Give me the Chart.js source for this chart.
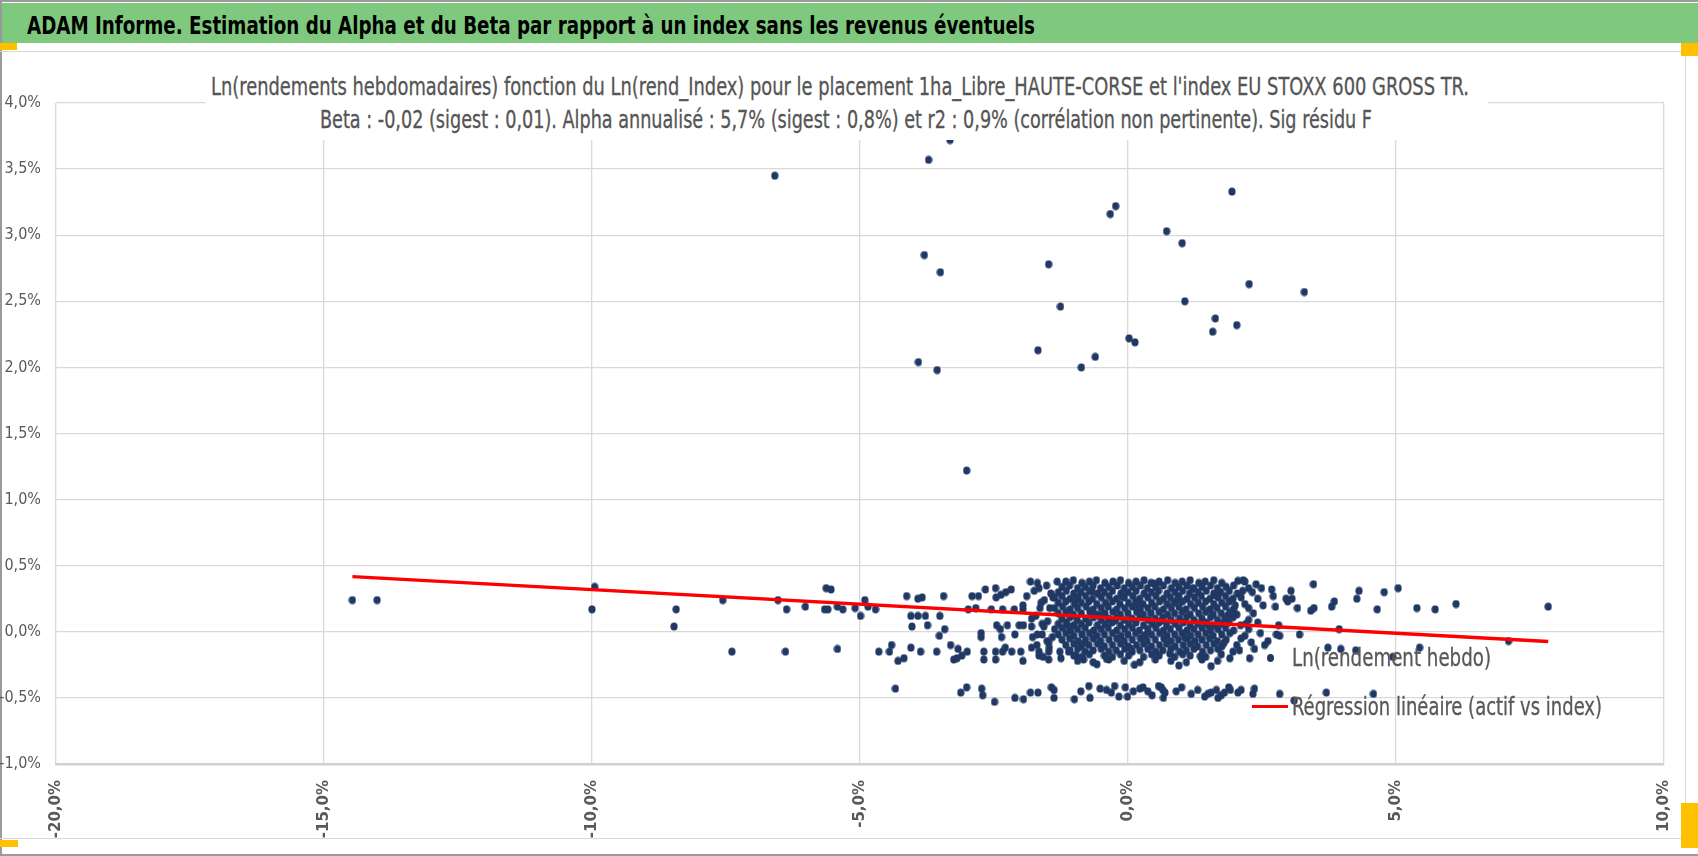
<!DOCTYPE html>
<html lang="fr">
<head>
<meta charset="utf-8">
<title>ADAM Informe - Alpha et Beta</title>
<script src="https://cdn.jsdelivr.net/npm/chart.js@4.4.1/dist/chart.umd.min.js"></script>
<style>
    html, body { margin: 0; padding: 0; width: 1698px; height: 856px; overflow: hidden; background: #fff; }
    .abs { position: absolute; }
    #bordHaut { left: 0; top: 0; width: 1698px; height: 2px; background: #9a9a9a; }
    #bordGauche { left: 0; top: 0; width: 2px; height: 856px; background: #9a9a9a; }
    #bordBas { left: 0; top: 854px; width: 1698px; height: 2px; background: #9a9a9a; }
    #entete { left: 2px; top: 3px; width: 1696px; height: 40px; background: #7fc97f; }
    #cadre { left: 0; top: 51px; width: 1685px; height: 786px; border: 1px solid #d9d9d9; border-left: none; }
    .poignee { background: #ffc000; }
    .texte { white-space: nowrap; transform-origin: 0 50%; display: inline-block; }
    #texteEntete { left: 27px; top: 12px; font: bold 25px/28px "Liberation Sans Narrow", "DejaVu Sans Condensed", sans-serif; color: #000; }
    #boiteTitre { left: 206px; top: 62px; width: 1282px; height: 78px; background: #fff; z-index: 3; }
    .titre { font: 24px/28px "Liberation Sans Narrow", "DejaVu Sans Condensed", sans-serif; color: #555; -webkit-text-stroke: 0.3px #555; z-index: 4; }
    #titre1 { left: 211px; top: 73px; }
    #titre2 { left: 320px; top: 106px; }
    .legende { font: 24px/28px "Liberation Sans Narrow", "DejaVu Sans Condensed", sans-serif; color: #595959; -webkit-text-stroke: 0.3px #595959; z-index: 4; }
    #leg1 { left: 1292px; top: 644px; }
    #leg2 { left: 1292px; top: 693px; }
    #legTrait { left: 1252px; top: 705px; width: 36px; height: 3px; background: #ff0000; z-index: 4; }
    #legPoint { left: 1267px; top: 654px; width: 7px; height: 8px; border-radius: 50%; background: #203864; z-index: 4; }
    #zoneGraphe { left: 0; top: 0; width: 1698px; height: 856px; z-index: 2; }
</style>
</head>
<body>
<div class="abs" id="entete"></div>
<div class="abs" id="bordHaut"></div>
<div class="abs" id="bordGauche"></div>
<div class="abs" id="bordBas"></div>
<div class="abs" id="cadre"></div>
<div class="abs poignee" style="left:0;top:43px;width:17px;height:7px"></div>
<div class="abs poignee" style="left:1681px;top:43px;width:17px;height:13px"></div>
<div class="abs poignee" style="left:0;top:840px;width:18px;height:7px"></div>
<div class="abs poignee" style="left:1681px;top:803px;width:17px;height:45px"></div>
<span class="abs texte" id="texteEntete" data-largeur="1008"></span>

<div class="abs" id="zoneGraphe"><canvas id="nuage"></canvas></div>

<div class="abs" id="boiteTitre"></div>
<span class="abs texte titre" id="titre1" data-largeur="1258"></span>
<span class="abs texte titre" id="titre2" data-largeur="1052"></span>

<div class="abs" id="legPoint"></div>
<span class="abs texte legende" id="leg1" data-largeur="199"></span>
<div class="abs" id="legTrait"></div>
<span class="abs texte legende" id="leg2" data-largeur="310"></span>

<script>
// textes
const enTete = "ADAM Informe. Estimation du Alpha et du Beta par rapport à un index sans les revenus éventuels";
const titreLigne1 = "Ln(rendements hebdomadaires) fonction du Ln(rend_Index) pour le placement 1ha_Libre_HAUTE-CORSE et l'index EU STOXX 600 GROSS TR.";
const titreLigne2 = "Beta : -0,02 (sigest : 0,01).  Alpha annualisé : 5,7% (sigest : 0,8%) et r2 : 0,9% (corrélation non pertinente). Sig résidu F";
const nomNuage = "Ln(rendement hebdo)";
const nomRegression = "Régression linéaire (actif vs index)";

// axes (en %)
const xBornes = [-20, 10];
const xPas = 5;
const yBornes = [-1, 4];
const yPas = 0.5;

// droite de régression : extrémités en %
const regX = [-14.47, 7.84];
const regY = [0.417, -0.073];

// points [rend_Index %, rendement hebdo %]
const outliersHaut = [
    [-6.59,3.45],[-3.72,3.57],[-3.32,3.72],[1.94,3.33],[-0.23,3.22],[-0.33,3.16],[0.72,3.03],[1.01,2.94],
    [-3.80,2.85],[-3.50,2.72],[-1.48,2.78],[2.26,2.63],[3.29,2.57],[1.06,2.50],[-1.26,2.46],[1.63,2.37],
    [2.03,2.32],[1.58,2.27],[0.02,2.22],[0.13,2.19],[-1.68,2.13],[-0.61,2.08],[-0.87,2.00],[-3.91,2.04],
    [-3.56,1.98],[-3.01,1.22]
];

const queueGauche = [
    [-14.47,0.24],[-14.01,0.24],[-9.95,0.34],[-10.0,0.17],[-8.43,0.17],[-8.47,0.04],[-7.56,0.24],[-7.39,-0.15],
    [-6.53,0.24],[-6.37,0.17],[-6.39,-0.15],[-6.02,0.19],[-5.63,0.33],[-5.54,0.32],[-5.66,0.17],[-5.60,0.17],
    [-5.42,0.19],[-5.42,-0.13],[-5.32,0.17],[-5.09,0.18],[-4.99,0.12],[-4.91,0.24],[-4.85,0.19],[-4.71,0.17],
    [-4.65,-0.15]
];

const flancGauche = [
    [-4.13,0.27],[-4.05,0.12],[-4.03,0.04],[-3.92,0.12],[-3.92,0.25],[-3.84,0.26],[-3.78,0.12],[-3.74,0.05],
    [-3.51,0.12],[-3.44,0.27],[-3.42,0.02],[-3.52,-0.03],[-3.31,-0.10],[-3.17,-0.13],[-2.98,0.17],[-2.84,0.18],
    [-2.91,0.27],[-2.79,0.27],[-2.66,0.32],[-2.47,0.33],[-2.46,0.26],[-2.37,0.28],[-2.28,0.30],[-2.18,0.32],
    [-2.55,0.17],[-2.34,0.17],[-2.45,0.05],[-2.25,0.05],[-2.38,0.02],[-2.36,-0.04],[-2.74,-0.04],[-2.74,-0.01],
    [-2.11,-0.02],[-2.12,0.17],[-1.96,0.17],[-2.03,0.05],[-1.95,0.05],[-1.96,0.20],[-1.89,0.27],[-1.82,0.38],
    [-1.69,0.37],[-1.66,0.33],[-1.80,0.10],[-1.80,0.04],[-1.78,-0.04],[-1.69,-0.02],[-1.60,-0.02],[-1.64,0.18],
    [-1.60,0.06],[-1.57,0.04],[-1.56,0.24],[-1.51,-0.07],[-1.48,-0.08],[-1.46,0.18],[-1.40,0.26],
    [-4.45,-0.15],[-4.41,-0.10],[-4.29,-0.22],[-4.18,-0.20],[-4.05,-0.12],[-3.87,-0.15],[-3.57,-0.15],[-3.25,-0.21],
    [-3.19,-0.20],[-3.10,-0.18],[-3.00,-0.15],[-2.69,-0.15],[-2.69,-0.21],[-2.47,-0.15],[-2.47,-0.21],[-2.34,-0.15],
    [-2.29,-0.12],[-2.17,-0.15],[-2.00,-0.15],[-1.96,-0.22],[-1.80,-0.12],[-1.66,-0.15],[-1.66,-0.18],[-1.48,-0.15],
    [-1.48,-0.21],[-1.27,-0.15],[-1.11,-0.15],[-0.97,-0.18],[-0.83,-0.21]
];

const noyau = [
    [-1.16,0.38],[-1.02,0.39],[-0.86,0.37],[-0.72,0.38],[-0.59,0.39],[-0.43,0.37],[-0.28,0.38],[-0.14,0.39],[0.01,0.37],[0.15,0.38],[0.3,0.39],[0.43,0.37],[0.58,0.38],[0.74,0.39],[0.88,0.37],[1.01,0.38],[1.16,0.39],[1.32,0.37],[1.44,0.38],[1.6,0.39],[1.75,0.37],[2.18,0.38],
    [-1.23,0.34],[-1.09,0.35],[-0.94,0.33],[-0.8,0.34],[-0.65,0.35],[-0.51,0.33],[-0.36,0.34],[-0.2,0.35],[-0.07,0.33],[0.08,0.34],[0.23,0.35],[0.36,0.33],[0.52,0.34],[0.66,0.35],[0.81,0.33],[0.95,0.34],[1.1,0.35],[1.23,0.33],[1.38,0.34],[1.54,0.35],[1.67,0.33],[1.83,0.34],[1.97,0.35],[2.25,0.33],
    [-1.3,0.3],[-1.15,0.31],[-1.01,0.29],[-0.88,0.3],[-0.72,0.31],[-0.57,0.29],[-0.44,0.3],[-0.29,0.31],[-0.13,0.29],[0.0,0.3],[0.15,0.31],[0.3,0.29],[0.44,0.3],[0.57,0.31],[0.73,0.29],[0.88,0.3],[1.02,0.31],[1.15,0.29],[1.31,0.3],[1.46,0.31],[1.6,0.29],[1.73,0.3],[1.89,0.31],[2.04,0.29],[2.32,0.3],
    [-1.37,0.26],[-1.23,0.27],[-1.08,0.25],[-0.93,0.26],[-0.79,0.27],[-0.66,0.25],[-0.5,0.26],[-0.35,0.27],[-0.21,0.25],[-0.07,0.26],[0.09,0.27],[0.22,0.25],[0.37,0.26],[0.52,0.27],[0.66,0.25],[0.79,0.26],[0.95,0.27],[1.1,0.25],[1.24,0.26],[1.37,0.27],[1.53,0.25],[1.68,0.26],[1.82,0.27],[1.96,0.25],[2.11,0.26],
    [-1.3,0.22],[-1.16,0.23],[-1.0,0.21],[-0.87,0.22],[-0.73,0.23],[-0.58,0.21],[-0.42,0.22],[-0.29,0.23],[-0.15,0.21],[0.01,0.22],[0.15,0.23],[0.28,0.21],[0.44,0.22],[0.59,0.23],[0.73,0.21],[0.86,0.22],[1.02,0.23],[1.17,0.21],[1.31,0.22],[1.45,0.23],[1.6,0.21],[1.75,0.22],[1.89,0.23],[2.18,0.21],
    [-1.37,0.18],[-1.22,0.19],[-1.08,0.17],[-0.94,0.18],[-0.78,0.19],[-0.65,0.17],[-0.5,0.18],[-0.37,0.19],[-0.21,0.17],[-0.06,0.18],[0.08,0.19],[0.23,0.17],[0.37,0.18],[0.5,0.19],[0.66,0.17],[0.81,0.18],[0.95,0.19],[1.08,0.17],[1.24,0.18],[1.39,0.19],[1.53,0.17],[1.66,0.18],[1.82,0.19],[1.97,0.17],[2.25,0.18],
    [-1.3,0.14],[-1.16,0.15],[-1.02,0.13],[-0.87,0.14],[-0.71,0.15],[-0.58,0.13],[-0.43,0.14],[-0.28,0.15],[-0.14,0.13],[0.0,0.14],[0.16,0.15],[0.29,0.13],[0.43,0.14],[0.58,0.15],[0.74,0.13],[0.87,0.14],[1.01,0.15],[1.16,0.13],[1.32,0.14],[1.45,0.15],[1.59,0.13],[1.74,0.14],[1.9,0.15],[2.03,0.13],
    [-1.23,0.1],[-1.08,0.11],[-0.95,0.09],[-0.79,0.1],[-0.64,0.11],[-0.5,0.09],[-0.36,0.1],[-0.2,0.11],[-0.07,0.09],[0.08,0.1],[0.22,0.11],[0.38,0.09],[0.51,0.1],[0.65,0.11],[0.8,0.09],[0.96,0.1],[1.09,0.11],[1.23,0.09],[1.38,0.1],[1.54,0.11],[1.67,0.09],[1.81,0.1],[1.96,0.11],[2.25,0.09],
    [-1.3,0.06],[-1.15,0.07],[-1.01,0.05],[-0.87,0.06],[-0.73,0.07],[-0.57,0.05],[-0.43,0.06],[-0.3,0.07],[-0.14,0.05],[0.01,0.06],[0.15,0.07],[0.29,0.05],[0.45,0.06],[0.58,0.07],[0.72,0.05],[0.88,0.06],[1.03,0.07],[1.16,0.05],[1.3,0.06],[1.46,0.07],[1.61,0.05],[1.74,0.06],[1.88,0.07],[2.1,0.05],
    [-1.37,0.02],[-1.23,0.03],[-1.07,0.01],[-0.94,0.02],[-0.8,0.03],[-0.64,0.01],[-0.5,0.02],[-0.37,0.03],[-0.21,0.01],[-0.06,0.02],[0.08,0.03],[0.21,0.01],[0.37,0.02],[0.52,0.03],[0.66,0.01],[0.79,0.02],[0.95,0.03],[1.1,0.01],[1.23,0.02],[1.38,0.03],[1.54,0.01],[1.68,0.02],[1.82,0.03],[1.97,0.01],[2.25,0.02],
    [-1.3,-0.02],[-1.16,-0.01],[-1.01,-0.03],[-0.86,-0.02],[-0.72,-0.01],[-0.58,-0.03],[-0.44,-0.02],[-0.29,-0.01],[-0.13,-0.03],[0.0,-0.02],[0.14,-0.01],[0.3,-0.03],[0.44,-0.02],[0.59,-0.01],[0.73,-0.03],[0.87,-0.02],[1.01,-0.01],[1.17,-0.03],[1.31,-0.02],[1.45,-0.01],[1.59,-0.03],[1.75,-0.02],[1.9,-0.01],[2.18,-0.03],
    [-1.23,-0.06],[-1.09,-0.05],[-0.93,-0.07],[-0.79,-0.06],[-0.65,-0.05],[-0.51,-0.07],[-0.35,-0.06],[-0.21,-0.05],[-0.07,-0.07],[0.08,-0.06],[0.23,-0.05],[0.36,-0.07],[0.51,-0.06],[0.67,-0.05],[0.8,-0.07],[0.94,-0.06],[1.1,-0.05],[1.25,-0.07],[1.38,-0.06],[1.52,-0.05],[1.67,-0.07],[1.83,-0.06],[2.11,-0.05],
    [-1.16,-0.1],[-1.01,-0.09],[-0.87,-0.11],[-0.73,-0.1],[-0.57,-0.09],[-0.44,-0.11],[-0.29,-0.1],[-0.14,-0.09],[0.0,-0.11],[0.16,-0.1],[0.29,-0.09],[0.44,-0.11],[0.59,-0.1],[0.72,-0.09],[0.88,-0.11],[1.03,-0.1],[1.16,-0.09],[1.3,-0.11],[1.46,-0.1],[1.6,-0.09],[1.75,-0.11],[2.03,-0.1],
    [-1.08,-0.14],[-0.94,-0.13],[-0.8,-0.15],[-0.65,-0.14],[-0.5,-0.13],[-0.36,-0.15],[-0.22,-0.14],[-0.06,-0.13],[0.08,-0.15],[0.22,-0.14],[0.37,-0.13],[0.52,-0.15],[0.65,-0.14],[0.8,-0.13],[0.96,-0.15],[1.09,-0.14],[1.23,-0.13],[1.39,-0.15],[1.54,-0.14],[1.68,-0.13],[1.96,-0.15],
    [-1.01,-0.18],[-0.86,-0.19],[-0.72,-0.17],[-0.44,-0.18],[-0.29,-0.19],[-0.14,-0.17],[0.01,-0.18],[0.29,-0.19],[0.44,-0.17],[0.58,-0.18],[0.87,-0.19],[1.02,-0.17],[1.16,-0.18],[1.45,-0.19],[1.74,-0.17],
    [-0.94,-0.22],[-0.65,-0.23],[-0.36,-0.21],[-0.07,-0.22],[0.22,-0.23],[0.51,-0.21],[0.8,-0.22],[1.09,-0.23],[1.38,-0.21],[1.67,-0.22]
];

// points intercalés du noyau
const noyauCompl = [
    [-1.75,0.31],[-1.72,0.12],[-1.7,-0.1],[-1.62,0.22],[-1.58,-0.19],[-1.52,0.35],[-1.5,0.08],[-1.47,-0.12],
    [-1.44,0.29],[-1.41,-0.04],[-1.12,0.045],[-0.98,0.235],[-0.82,-0.085],[-0.67,0.305],[-0.52,0.125],[-0.4,-0.205],
    [-0.24,0.085],[-0.1,0.265],[0.05,-0.125],[0.19,0.195],[0.33,-0.025],[0.48,0.365],[0.63,0.085],[0.78,-0.165],
    [0.92,0.245],[1.06,-0.045],[1.2,0.325],[1.35,-0.185],[1.5,0.045],[1.64,0.275],[1.79,-0.085],[1.86,0.125],
    [2.0,0.2],[2.08,-0.14],[2.14,0.31],[2.2,0.06],[2.3,-0.08],[2.34,0.14],[2.39,0.36],[2.47,-0.01],
    [2.52,0.2],[-0.58,-0.245],[0.12,-0.25],[0.95,-0.255],[1.55,-0.26],[-1.25,-0.2],[-1.32,0.38],[2.05,0.385],
    [1.9,-0.2]
];

const flancDroit = [
    [3.46,0.36],[3.04,0.31],[3.06,0.25],[3.16,0.18],[3.41,0.16],[3.47,0.18],[3.80,0.19],[3.85,0.23],
    [3.94,0.02],[4.27,0.25],[4.31,0.31],[4.65,0.17],[4.78,0.30],[5.04,0.33],[5.39,0.18],[5.73,0.17],
    [6.12,0.21],[7.10,-0.07],[7.84,0.19],[3.73,-0.12],[3.97,-0.13],[4.25,-0.14],[4.94,-0.19],[5.44,-0.12],
    [3.20,-0.02],[2.77,-0.02],[2.83,-0.03],[2.61,-0.07],[2.81,0.05],[2.95,0.25],[2.98,0.23],[2.75,0.19],
    [2.68,0.32],[2.71,0.27],[2.42,0.25],[2.49,0.33],[2.15,0.39],[2.42,0.07],[2.36,-0.13],[2.27,-0.20],
    [2.55,-0.10]
];

const bandeBasse = [
    [-4.34,-0.43],[-3.12,-0.46],[-3.01,-0.42],[-2.73,-0.43],[-2.71,-0.48],[-2.49,-0.53],[-2.11,-0.50],[-1.95,-0.51],
    [-1.82,-0.46],[-1.68,-0.46],[-1.43,-0.42],[-1.38,-0.44],[-1.38,-0.50],[-1.00,-0.51],[-0.88,-0.45],[-0.73,-0.41],
    [-0.71,-0.50],[-0.52,-0.43],[-0.40,-0.44],[-0.31,-0.46],[-0.25,-0.41],[-0.17,-0.49],[-0.05,-0.42],[-0.01,-0.49],
    [0.10,-0.45],[0.22,-0.43],[0.28,-0.42],[0.37,-0.45],[0.45,-0.48],[0.57,-0.41],[0.62,-0.42],[0.65,-0.44],
    [0.66,-0.50],[0.69,-0.46],[0.90,-0.45],[1.00,-0.42],[1.18,-0.47],[1.30,-0.44],[1.43,-0.49],[1.49,-0.47],
    [1.55,-0.46],[1.65,-0.44],[1.68,-0.50],[1.74,-0.48],[1.80,-0.46],[1.88,-0.42],[1.91,-0.44],[2.05,-0.46],
    [2.11,-0.44],[2.33,-0.47],[2.36,-0.43],[2.83,-0.47],[3.10,-0.52],[3.70,-0.46],[4.58,-0.47]
];

const pct = v => Number(v).toFixed(1).replace('.', ',') + '%';
const enPoints = liste => liste.map(([x, y]) => ({ x: x, y: y }));

// point elliptique comme dans l'original
const pastille = document.createElement('canvas');
pastille.width = 8;
pastille.height = 9;
const pc = pastille.getContext('2d');
pc.fillStyle = '#203864';
pc.beginPath();
pc.ellipse(4, 4.5, 3.6, 4.1, 0, 0, Math.PI * 2);
pc.fill();

document.getElementById('texteEntete').textContent = enTete;
document.getElementById('titre1').textContent = titreLigne1;
document.getElementById('titre2').textContent = titreLigne2;
document.getElementById('leg1').textContent = nomNuage;
document.getElementById('leg2').textContent = nomRegression;

function ajusterLargeurs() {
    document.querySelectorAll('[data-largeur]').forEach(el => {
        el.style.transform = 'none';
        const w = el.getBoundingClientRect().width;
        if (w > 0) el.style.transform = 'scaleX(' + (parseFloat(el.dataset.largeur) / w) + ')';
    });
}
ajusterLargeurs();
if (document.fonts && document.fonts.ready) document.fonts.ready.then(ajusterLargeurs);

const policeAxeY = { family: '"Liberation Sans Narrow", "DejaVu Sans Condensed", sans-serif', size: 16 };
const policeAxeX = { family: '"DejaVu Sans", sans-serif', size: 15, weight: 'bold' };

let nuage = new Chart(document.getElementById("nuage"), {
    type: 'scatter',
    data: {
        datasets: [{
            label: nomRegression,
            data: regX.map((x, i) => ({ x: x, y: regY[i] })),
            showLine: true,
            borderColor: '#ff0000',
            borderWidth: 3.4,
            pointRadius: 0,
            order: 0
        },
            {
                label: nomNuage,
                data: enPoints([].concat(outliersHaut, queueGauche, flancGauche, noyau, noyauCompl, flancDroit, bandeBasse)),
                pointStyle: pastille,
                pointRadius: 4,
                backgroundColor: '#203864',
                borderWidth: 0,
                order: 1
            }]
    },
    options: {
        responsive: true,
        maintainAspectRatio: false,
        animation: false,
        events: [],
        layout: {
            padding: { top: 103, right: 15, left: 0, bottom: 0 }
        },
        plugins: {
            legend: { display: false },
            title: { display: false },
            tooltip: { enabled: false }
        },
        scales: {
            x: {
                type: 'linear',
                min: xBornes[0],
                max: xBornes[1],
                ticks: {
                    stepSize: xPas,
                    minRotation: 90,
                    maxRotation: 90,
                    padding: 16,
                    color: '#595959',
                    font: policeAxeX,
                    callback: pct
                },
                grid: { color: '#d9d9d9', lineWidth: 1.3, drawTicks: false },
                border: { color: '#d0d0d0', width: 2.5 },
                afterFit: scale => { scale.height = 92; }
            },
            y: {
                min: yBornes[0],
                max: yBornes[1],
                ticks: {
                    stepSize: yPas,
                    padding: 15,
                    color: '#595959',
                    font: policeAxeY,
                    callback: pct
                },
                grid: { color: '#d9d9d9', lineWidth: 1.3, drawTicks: false },
                border: { display: false },
                afterFit: scale => { scale.width = 56; }
            }
        }
    }
})
</script>
</body>
</html>
